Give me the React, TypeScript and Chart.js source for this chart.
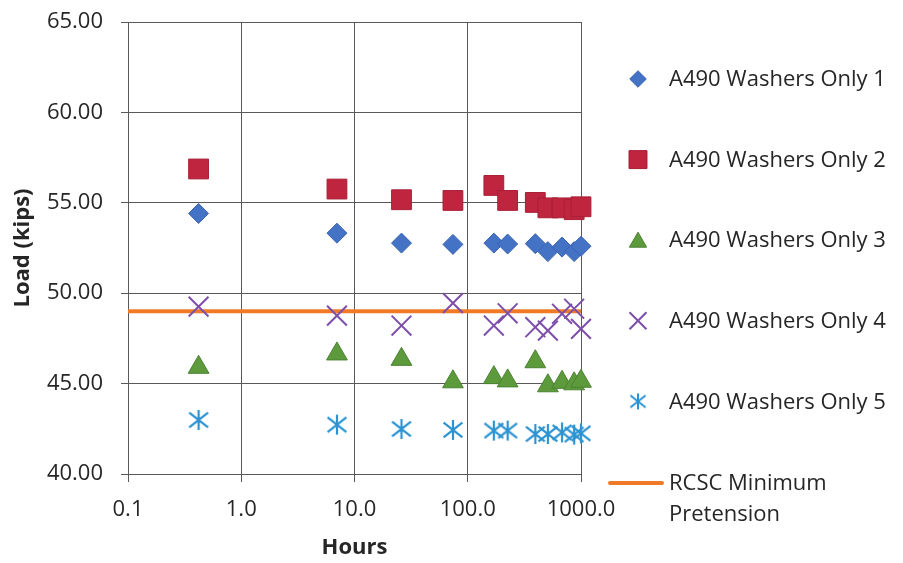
import React, { useEffect, useRef } from "react";
import { Chart, registerables } from "chart.js";
import { drawPoint } from "chart.js/helpers";

Chart.register(...registerables);

// ---- data ----
const hours = [0.42, 7, 26, 74, 170, 225, 395, 510, 680, 870, 1000];
const washers1 = [54.41, 53.32, 52.77, 52.7, 52.77, 52.72, 52.74, 52.3, 52.55, 52.3, 52.6];
const washers2 = [56.87, 55.76, 55.17, 55.13, 55.96, 55.13, 55.02, 54.72, 54.72, 54.62, 54.78];
const washers3 = [45.9, 46.64, 46.34, 45.1, 45.33, 45.15, 46.21, 44.88, 45.07, 44.99, 45.13];
const washers4 = [49.26, 48.76, 48.21, 49.45, 48.21, 48.89, 48.12, 47.93, 48.86, 49.14, 48.03];
const washers5 = [42.99, 42.73, 42.49, 42.44, 42.4, 42.4, 42.21, 42.21, 42.3, 42.18, 42.25];
const rcscHours = [0.1, 1000];
const rcscLoad = [49.0, 49.0];
const seriesNames = [
  "A490 Washers Only 1",
  "A490 Washers Only 2",
  "A490 Washers Only 3",
  "A490 Washers Only 4",
  "A490 Washers Only 5",
];
const rcscName = ["RCSC Minimum", "Pretension"];
const xTickValues = [0.1, 1, 10, 100, 1000];
const yMin = 40;
const yMax = 65;
const yStep = 5;

const FONT = "'Open Sans', 'Noto Sans', sans-serif";
const TEXT = "#262626";
const GRID = "#595959";

const COLORS = {
  blue: "#4472C4",
  blueB: "#3A64B2",
  red: "#C0253F",
  redB: "#A81F36",
  green: "#5C9A3C",
  greenB: "#4B8331",
  purple: "#7D4FAA",
  cyan: "#2B93D1",
  orange: "#F07A28",
};

function makeAsterisk(size: number, color: string, lw: number) {
  const c = document.createElement("canvas");
  c.width = size;
  c.height = size;
  const ctx = c.getContext("2d")!;
  const m = size / 2;
  const r = size / 2 - lw / 2;
  ctx.strokeStyle = color;
  ctx.lineWidth = lw;
  ctx.lineCap = "butt";
  ctx.beginPath();
  ctx.moveTo(m, m - r);
  ctx.lineTo(m, m + r);
  ctx.moveTo(m - 0.95 * r, m - 0.75 * r);
  ctx.lineTo(m + 0.95 * r, m + 0.75 * r);
  ctx.moveTo(m - 0.95 * r, m + 0.75 * r);
  ctx.lineTo(m + 0.95 * r, m - 0.75 * r);
  ctx.stroke();
  return c;
}

export default function App() {
  const ref = useRef<HTMLCanvasElement>(null);

  useEffect(() => {
    const asterisk = makeAsterisk(22, COLORS.cyan, 2.2);
    const asteriskSmall = makeAsterisk(18, COLORS.cyan, 2);

    const pts = (ys: number[]) => hours.map((h, i) => ({ x: h, y: ys[i] }));

    const legendItems = [
      { style: "rectRot", radius: 8.3, fill: COLORS.blue, stroke: COLORS.blueB, bw: 1 },
      { style: "rect", radius: 12.7, fill: COLORS.red, stroke: COLORS.redB, bw: 1 },
      { style: "triangle", radius: 10, fill: COLORS.green, stroke: COLORS.greenB, bw: 1 },
      { style: "crossRot", radius: 12, fill: COLORS.purple, stroke: COLORS.purple, bw: 2 },
      { style: "asterisk", radius: 9, fill: COLORS.cyan, stroke: COLORS.cyan, bw: 2 },
    ];

    const legendPlugin = {
      id: "sideLegend",
      afterDraw(chart: any) {
        const ctx = chart.ctx as CanvasRenderingContext2D;
        const markerX = 638;
        const textX = 669;
        const y0 = 79;
        const step = 80.6;
        ctx.save();
        ctx.font = `22px ${FONT}`;
        ctx.textBaseline = "middle";
        ctx.textAlign = "left";
        legendItems.forEach((it, i) => {
          const y = y0 + i * step;
          if (it.style === "asterisk") {
            ctx.drawImage(asteriskSmall, markerX - 9, y - 9);
          } else {
            ctx.fillStyle = it.fill;
            ctx.strokeStyle = it.stroke;
            ctx.lineWidth = it.bw;
            drawPoint(ctx, { pointStyle: it.style as any, radius: it.radius, rotation: 0, borderWidth: it.bw }, markerX, y + (it.style === "triangle" ? 2 : 0));
          }
          ctx.fillStyle = TEXT;
          ctx.fillText(seriesNames[i], textX, y + 1);
        });
        const ly = y0 + 5 * step + 1;
        ctx.strokeStyle = COLORS.orange;
        ctx.lineWidth = 4;
        ctx.lineCap = "round";
        ctx.beginPath();
        ctx.moveTo(610, ly);
        ctx.lineTo(662, ly);
        ctx.stroke();
        ctx.fillStyle = TEXT;
        ctx.fillText(rcscName[0], textX, ly + 1);
        ctx.fillText(rcscName[1], textX, ly + 32);
        ctx.restore();
      },
    };

    const chart = new Chart(ref.current!, {
      type: "scatter",
      data: {
        datasets: [
          {
            label: seriesNames[0],
            data: pts(washers1),
            pointStyle: "rectRot",
            pointRadius: 10,
            backgroundColor: COLORS.blue,
            borderColor: COLORS.blueB,
            borderWidth: 1,
            clip: false,
          },
          {
            label: seriesNames[1],
            data: pts(washers2),
            pointStyle: "rect",
            pointRadius: 14,
            backgroundColor: COLORS.red,
            borderColor: COLORS.redB,
            borderWidth: 1,
            clip: false,
          },
          {
            label: seriesNames[2],
            data: pts(washers3),
            pointStyle: "triangle",
            pointRadius: 12,
            backgroundColor: COLORS.green,
            borderColor: COLORS.greenB,
            borderWidth: 1,
            clip: false,
          },
          {
            label: seriesNames[3],
            data: pts(washers4),
            pointStyle: "crossRot",
            pointRadius: 14,
            backgroundColor: COLORS.purple,
            borderColor: COLORS.purple,
            borderWidth: 2,
            clip: false,
          },
          {
            label: seriesNames[4],
            data: pts(washers5),
            pointStyle: asterisk as any,
            pointRadius: 11,
            backgroundColor: COLORS.cyan,
            borderColor: COLORS.cyan,
            borderWidth: 2,
            clip: false,
          },
          {
            type: "line",
            label: rcscName.join(" "),
            data: rcscHours.map((h, i) => ({ x: h, y: rcscLoad[i] })),
            borderColor: COLORS.orange,
            backgroundColor: COLORS.orange,
            borderWidth: 4,
            pointRadius: 0,
            showLine: true,
            clip: false,
          } as any,
        ],
      },
      options: {
        animation: false,
        responsive: false,
        devicePixelRatio: 1,
        layout: { padding: { left: 0, top: 22, right: 322, bottom: 0 } },
        plugins: {
          legend: { display: false },
          tooltip: { enabled: false },
        },
        scales: {
          x: {
            type: "logarithmic",
            min: 0.1,
            max: 1000,
            afterBuildTicks: (s: any) => {
              s.ticks = xTickValues.map((v) => ({ value: v, major: true }));
            },
            afterFit: (s: any) => {
              s.height = 89;
              s.paddingLeft = 0;
              s.paddingRight = 0;
            },
            ticks: {
              callback: (v: any) => Number(v).toFixed(1),
              font: { family: FONT, size: 22 },
              color: TEXT,
              padding: 15,
              maxRotation: 0,
              autoSkip: false,
            },
            grid: { color: GRID, lineWidth: 1, tickLength: 8 },
            border: { color: GRID, width: 1 },
            title: {
              display: true,
              text: "Hours",
              font: { family: FONT, size: 22, weight: "bold" },
              color: TEXT,
              padding: { top: 0, bottom: 2 },
            },
          },
          y: {
            type: "linear",
            min: yMin,
            max: yMax,
            afterFit: (s: any) => {
              s.width = 128;
              s.paddingTop = 0;
              s.paddingBottom = 0;
            },
            ticks: {
              stepSize: yStep,
              callback: (v: any) => Number(v).toFixed(2),
              font: { family: FONT, size: 22 },
              color: TEXT,
              padding: 18,
            },
            grid: { color: GRID, lineWidth: 1, tickLength: 7 },
            border: { color: GRID, width: 1 },
            title: {
              display: true,
              text: "Load (kips)",
              font: { family: FONT, size: 22, weight: "bold" },
              color: TEXT,
              padding: { top: 10, bottom: 0 },
            },
          },
        },
      },
      plugins: [legendPlugin],
    } as any);

    return () => chart.destroy();
  }, []);

  return (
    <div style={{ position: "absolute", left: 0, top: 0, width: 903, height: 563, background: "#fff" }}>
      <canvas ref={ref} width={903} height={563} style={{ display: "block", width: 903, height: 563 }} />
    </div>
  );
}
